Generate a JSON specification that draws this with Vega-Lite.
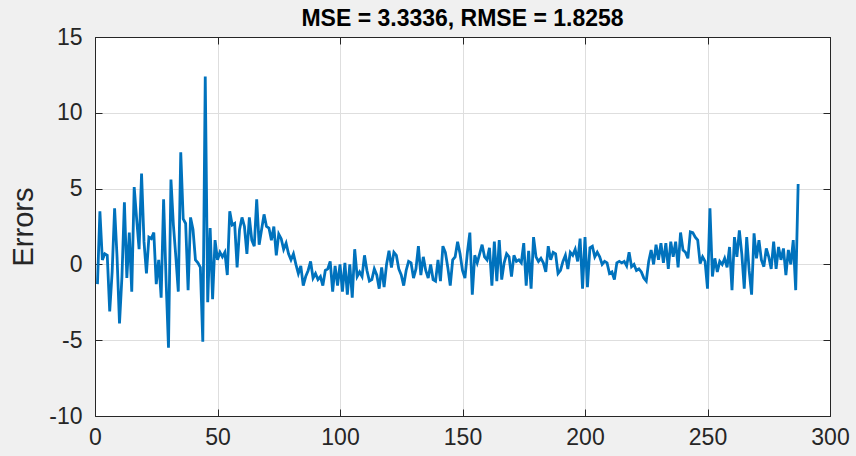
{
  "$schema": "https://vega.github.io/schema/vega-lite/v6.json",
  "width": 735,
  "height": 379,
  "autosize": {"type": "none"},
  "padding": {"left": 95, "top": 37, "right": 26, "bottom": 40},
  "background": "#f0f0f0",
  "config": {
    "view": {"fill": "white", "stroke": "#262626", "strokeWidth": 1},
    "font": "Liberation Sans"
  },
  "title": {"text": "MSE = 3.3336, RMSE = 1.8258", "fontSize": 23, "fontWeight": "bold", "color": "#000000", "offset": -5, "anchor": "middle", "font": "Liberation Sans"},
  "data": {"values": [
{"i":1,"e":-1.3},{"i":2,"e":3.5},{"i":3,"e":0.3},{"i":4,"e":0.7},{"i":5,"e":0.6},{"i":6,"e":-3.1},{"i":7,"e":-0.5},{"i":8,"e":3.7},{"i":9,"e":0.5},{"i":10,"e":-3.9},
{"i":11,"e":-0.8},{"i":12,"e":4.1},{"i":13,"e":-0.9},{"i":14,"e":2.1},{"i":15,"e":-1.8},{"i":16,"e":5.1},{"i":17,"e":3.0},{"i":18,"e":1.0},{"i":19,"e":6.0},{"i":20,"e":1.5},
{"i":21,"e":-0.6},{"i":22,"e":1.8},{"i":23,"e":1.7},{"i":24,"e":2.1},{"i":25,"e":-1.3},{"i":26,"e":0.3},{"i":27,"e":-2.2},{"i":28,"e":4.3},{"i":29,"e":-1.0},{"i":30,"e":-5.5},
{"i":31,"e":5.6},{"i":32,"e":2.6},{"i":33,"e":0.5},{"i":34,"e":-1.8},{"i":35,"e":7.4},{"i":36,"e":3.0},{"i":37,"e":2.7},{"i":38,"e":-1.7},{"i":39,"e":3.1},{"i":40,"e":2.3},
{"i":41,"e":0.3},{"i":42,"e":0.1},{"i":43,"e":-0.2},{"i":44,"e":-5.1},{"i":45,"e":12.4},{"i":46,"e":-2.5},{"i":47,"e":2.4},{"i":48,"e":-2.3},{"i":49,"e":1.6},{"i":50,"e":0.3},
{"i":51,"e":0.8},{"i":52,"e":0.5},{"i":53,"e":0.8},{"i":54,"e":-0.7},{"i":55,"e":3.5},{"i":56,"e":2.6},{"i":57,"e":2.7},{"i":58,"e":-0.2},{"i":59,"e":2.3},{"i":60,"e":3.1},
{"i":61,"e":2.5},{"i":62,"e":0.7},{"i":63,"e":3.1},{"i":64,"e":1.6},{"i":65,"e":1.2},{"i":66,"e":4.3},{"i":67,"e":1.3},{"i":68,"e":2.3},{"i":69,"e":3.3},{"i":70,"e":2.5},
{"i":71,"e":2.4},{"i":72,"e":1.6},{"i":73,"e":2.5},{"i":74,"e":0.6},{"i":75,"e":2.0},{"i":76,"e":1.7},{"i":77,"e":1.0},{"i":78,"e":1.4},{"i":79,"e":0.7},{"i":80,"e":0.3},
{"i":81,"e":0.7},{"i":82,"e":0.0},{"i":83,"e":-0.6},{"i":84,"e":-0.1},{"i":85,"e":-1.4},{"i":86,"e":-0.8},{"i":87,"e":-0.4},{"i":88,"e":0.2},{"i":89,"e":-0.9},{"i":90,"e":-0.6},
{"i":91,"e":-1.0},{"i":92,"e":-0.8},{"i":93,"e":-1.4},{"i":94,"e":-0.4},{"i":95,"e":-0.3},{"i":96,"e":0.2},{"i":97,"e":-1.8},{"i":98,"e":-0.1},{"i":99,"e":-1.4},{"i":100,"e":0.0},
{"i":101,"e":-1.8},{"i":102,"e":0.1},{"i":103,"e":-2.0},{"i":104,"e":0.0},{"i":105,"e":-2.2},{"i":106,"e":1.0},{"i":107,"e":-0.8},{"i":108,"e":-0.5},{"i":109,"e":-0.8},{"i":110,"e":0.6},
{"i":111,"e":-0.4},{"i":112,"e":-1.1},{"i":113,"e":-1.0},{"i":114,"e":-0.3},{"i":115,"e":-0.7},{"i":116,"e":-1.6},{"i":117,"e":-0.2},{"i":118,"e":-1.5},{"i":119,"e":0.0},{"i":120,"e":0.9},
{"i":121,"e":-0.2},{"i":122,"e":0.8},{"i":123,"e":0.6},{"i":124,"e":-0.3},{"i":125,"e":-0.7},{"i":126,"e":-1.4},{"i":127,"e":-0.4},{"i":128,"e":0.2},{"i":129,"e":0.1},{"i":130,"e":-0.9},
{"i":131,"e":-0.3},{"i":132,"e":1.2},{"i":133,"e":-0.7},{"i":134,"e":0.5},{"i":135,"e":-0.4},{"i":136,"e":-0.9},{"i":137,"e":0.0},{"i":138,"e":-1.0},{"i":139,"e":-1.1},{"i":140,"e":0.3},
{"i":141,"e":-1.1},{"i":142,"e":1.2},{"i":143,"e":0.8},{"i":144,"e":-0.2},{"i":145,"e":-1.4},{"i":146,"e":0.3},{"i":147,"e":0.5},{"i":148,"e":1.5},{"i":149,"e":0.7},{"i":150,"e":-0.4},
{"i":151,"e":-0.9},{"i":152,"e":0.8},{"i":153,"e":2.1},{"i":154,"e":-2.0},{"i":155,"e":0.6},{"i":156,"e":0.1},{"i":157,"e":0.7},{"i":158,"e":1.3},{"i":159,"e":0.5},{"i":160,"e":0.3},
{"i":161,"e":1.1},{"i":162,"e":-1.4},{"i":163,"e":1.5},{"i":164,"e":-1.1},{"i":165,"e":1.6},{"i":166,"e":-1.0},{"i":167,"e":0.1},{"i":168,"e":0.7},{"i":169,"e":0.5},{"i":170,"e":-0.8},
{"i":171,"e":0.6},{"i":172,"e":0.2},{"i":173,"e":0.3},{"i":174,"e":0.1},{"i":175,"e":1.4},{"i":176,"e":-1.4},{"i":177,"e":0.9},{"i":178,"e":-1.6},{"i":179,"e":1.8},{"i":180,"e":0.5},
{"i":181,"e":0.2},{"i":182,"e":0.4},{"i":183,"e":0.1},{"i":184,"e":-0.5},{"i":185,"e":1.2},{"i":186,"e":0.3},{"i":187,"e":0.8},{"i":188,"e":0.7},{"i":189,"e":-0.6},{"i":190,"e":-0.4},
{"i":191,"e":0.2},{"i":192,"e":0.6},{"i":193,"e":-0.3},{"i":194,"e":0.8},{"i":195,"e":0.6},{"i":196,"e":1.0},{"i":197,"e":0.2},{"i":198,"e":1.7},{"i":199,"e":-1.6},{"i":200,"e":1.8},
{"i":201,"e":-1.5},{"i":202,"e":1.1},{"i":203,"e":1.2},{"i":204,"e":0.5},{"i":205,"e":0.8},{"i":206,"e":0.5},{"i":207,"e":0.0},{"i":208,"e":0.2},{"i":209,"e":0.1},{"i":210,"e":-0.6},
{"i":211,"e":-0.5},{"i":212,"e":-1.0},{"i":213,"e":0.1},{"i":214,"e":0.2},{"i":215,"e":0.1},{"i":216,"e":0.2},{"i":217,"e":-0.1},{"i":218,"e":0.8},{"i":219,"e":-0.15},{"i":220,"e":0.0},
{"i":221,"e":-0.4},{"i":222,"e":-0.3},{"i":223,"e":-0.5},{"i":224,"e":-0.9},{"i":225,"e":-1.1},{"i":226,"e":0.2},{"i":227,"e":0.95},{"i":228,"e":0.0},{"i":229,"e":1.3},{"i":230,"e":0.3},
{"i":231,"e":1.4},{"i":232,"e":0.1},{"i":233,"e":1.4},{"i":234,"e":-0.3},{"i":235,"e":1.5},{"i":236,"e":0.5},{"i":237,"e":1.5},{"i":238,"e":-0.2},{"i":239,"e":2.1},{"i":240,"e":0.95},
{"i":241,"e":0.8},{"i":242,"e":0.4},{"i":243,"e":2.15},{"i":244,"e":2.1},{"i":245,"e":1.8},{"i":246,"e":1.6},{"i":247,"e":0.05},{"i":248,"e":0.5},{"i":249,"e":0.2},{"i":250,"e":-1.6},
{"i":251,"e":3.7},{"i":252,"e":-0.8},{"i":253,"e":0.4},{"i":254,"e":-0.5},{"i":255,"e":0.2},{"i":256,"e":0.0},{"i":257,"e":0.4},{"i":258,"e":-0.2},{"i":259,"e":1.15},{"i":260,"e":-1.7},
{"i":261,"e":1.8},{"i":262,"e":0.5},{"i":263,"e":2.25},{"i":264,"e":0.7},{"i":265,"e":-1.6},{"i":266,"e":1.8},{"i":267,"e":-0.4},{"i":268,"e":-2.0},{"i":269,"e":2.05},{"i":270,"e":0.4},
{"i":271,"e":1.6},{"i":272,"e":0.3},{"i":273,"e":-0.15},{"i":274,"e":1.05},{"i":275,"e":0.5},{"i":276,"e":-0.3},{"i":277,"e":1.5},{"i":278,"e":-0.3},{"i":279,"e":1.15},{"i":280,"e":0.3},
{"i":281,"e":1.05},{"i":282,"e":-0.7},{"i":283,"e":0.95},{"i":284,"e":0.0},{"i":285,"e":1.6},{"i":286,"e":-1.7},{"i":287,"e":5.3}
  ]},
  "layer": [
    {
      "mark": {"type": "line", "color": "#0072BD", "strokeWidth": 2.8, "clip": true},
      "encoding": {
        "x": {"field": "i", "type": "quantitative", "scale": {"domain": [0, 300], "nice": false, "zero": false},
          "axis": {"orient": "bottom", "title": null, "values": [0, 50, 100, 150, 200, 250, 300], "labelExpr": "datum.value + ''", "labelFontSize": 23, "labelColor": "#262626", "labelFont": "Liberation Sans", "domainColor": "#262626", "tickColor": "#262626", "tickSize": -7, "labelPadding": 17, "gridColor": "#dedede", "grid": true, "labelFlush": false}},
        "y": {"field": "e", "type": "quantitative", "scale": {"domain": [-10, 15], "nice": false, "zero": false},
          "axis": {"orient": "left", "title": "Errors", "titleFontSize": 29, "titleFontWeight": "normal", "titleColor": "#262626", "titleFont": "Liberation Sans", "titlePadding": 10, "values": [-10, -5, 0, 5, 10, 15], "labelExpr": "datum.value + ''", "labelFontSize": 23, "labelColor": "#262626", "labelFont": "Liberation Sans", "domainColor": "#262626", "tickColor": "#262626", "tickSize": -7, "labelPadding": 20, "gridColor": "#dedede", "grid": true, "labelFlush": false}}
      }
    },
    {
      "mark": {"type": "point", "opacity": 0},
      "encoding": {
        "x": {"field": "i", "type": "quantitative", "axis": {"orient": "top", "title": null, "labels": false, "grid": false, "values": [0, 50, 100, 150, 200, 250, 300], "domainColor": "#262626", "tickColor": "#262626", "tickSize": -7}},
        "y": {"field": "e", "type": "quantitative", "axis": {"orient": "right", "title": null, "labels": false, "grid": false, "values": [-10, -5, 0, 5, 10, 15], "domainColor": "#262626", "tickColor": "#262626", "tickSize": -7}}
      }
    }
  ],
  "resolve": {"axis": {"x": "independent", "y": "independent"}}
}
